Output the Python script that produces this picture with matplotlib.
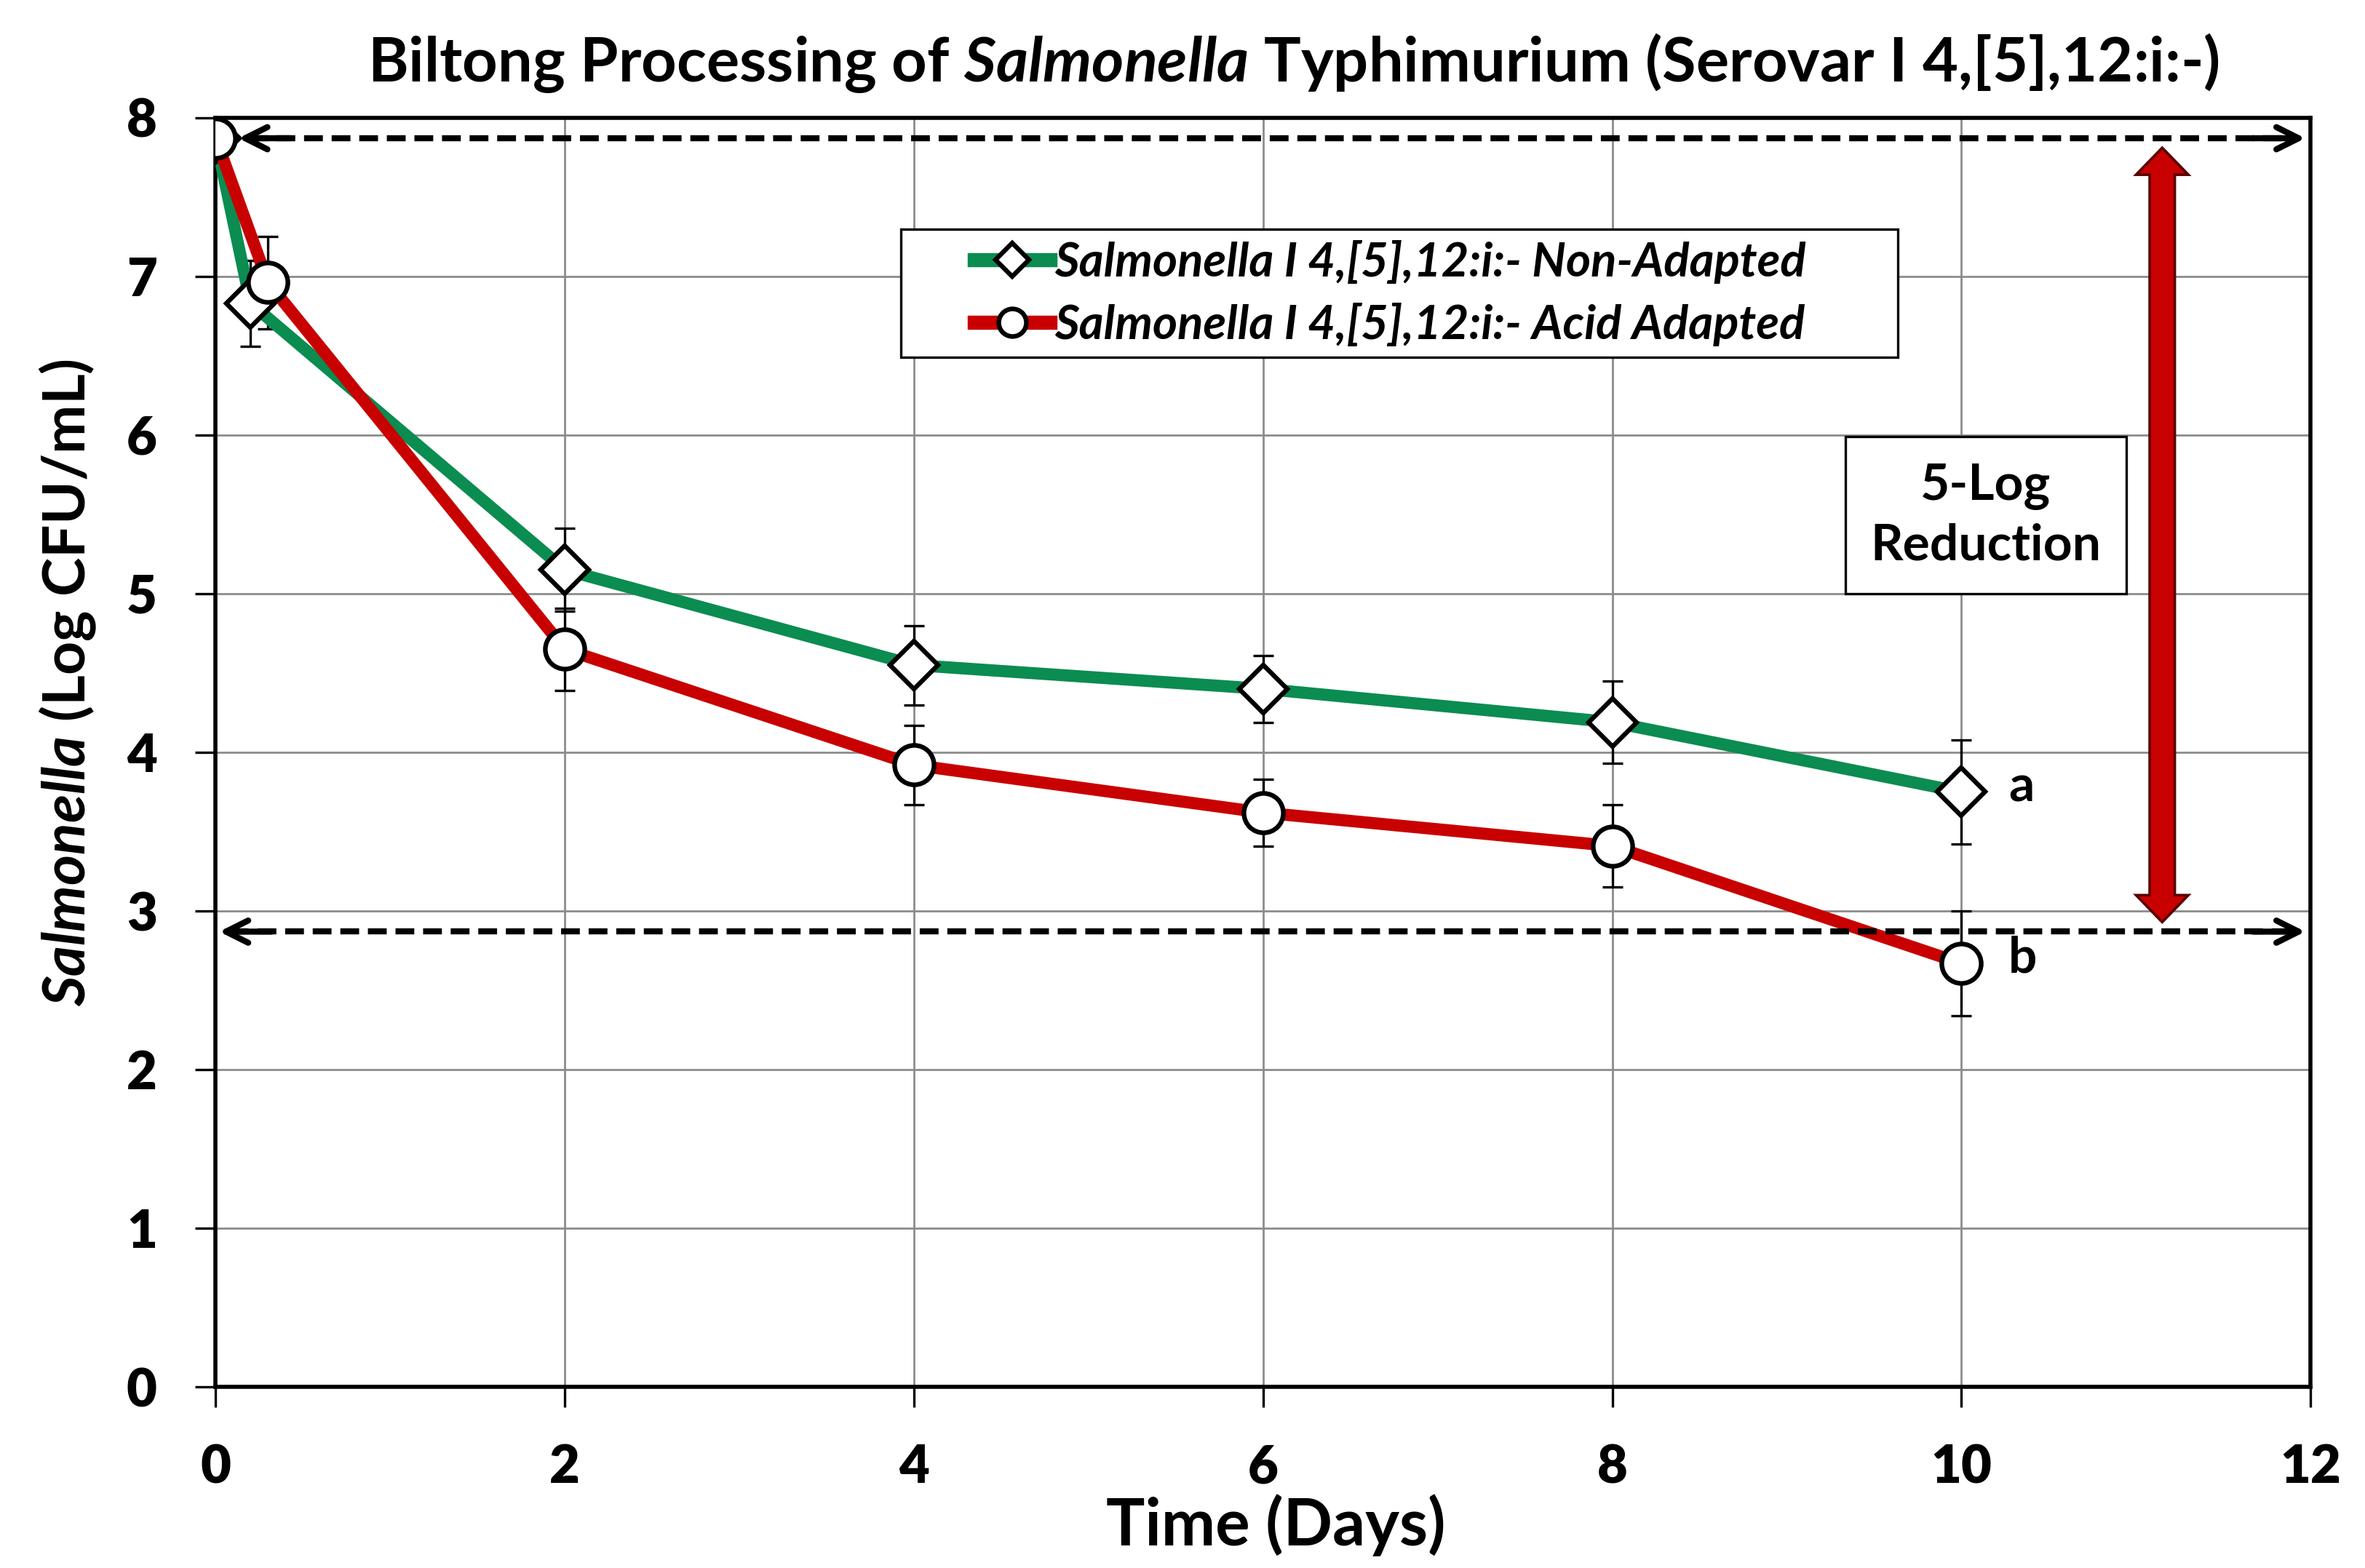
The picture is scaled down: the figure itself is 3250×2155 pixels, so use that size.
import numpy as np
import matplotlib
matplotlib.use("Agg")
import matplotlib.pyplot as plt
from matplotlib.patches import Rectangle, Polygon

plt.rcParams['font.family'] = ['Lato', 'DejaVu Sans']
plt.rcParams['font.weight'] = 'bold'
plt.rcParams['mathtext.fontset'] = 'custom'
plt.rcParams['mathtext.it'] = 'Lato:italic:bold'
plt.rcParams['mathtext.rm'] = 'Lato:bold'
plt.rcParams['mathtext.bf'] = 'Lato:bold'

# data
days_non = [0, 0.2, 2, 4, 6, 8, 10]
log_non = [7.87, 6.83, 5.15, 4.55, 4.40, 4.19, 3.75]
err_non = [0.0, 0.27, 0.26, 0.25, 0.21, 0.26, 0.33]

days_acid = [0, 0.3, 2, 4, 6, 8, 10]
log_acid = [7.87, 6.96, 4.65, 3.92, 3.62, 3.41, 2.67]
err_acid = [0.0, 0.29, 0.26, 0.25, 0.21, 0.26, 0.33]

label_non = "Salmonella I 4,[5],12:i:- Non-Adapted"
label_acid = "Salmonella I 4,[5],12:i:- Acid Adapted"
start_log = 7.87
target_log = 2.87
green = '#0b8c50'
red = '#c80000'

fig = plt.figure(figsize=(16.25, 10.775), dpi=200)
ax = fig.add_axes([0.0912, 0.1154, 0.8858, 0.8096])

ax.grid(True, color='#8c8c8c', lw=1.0, zorder=0)
ax.set_xlim(0, 12)
ax.set_ylim(0, 8)
ax.set_xticks(range(0, 13, 2))
ax.set_yticks(range(0, 9))
ax.tick_params(labelsize=26, length=10, width=1.2, direction='out')
ax.tick_params(axis='x', pad=18)
ax.tick_params(axis='y', pad=19)
for lab in ax.get_xticklabels() + ax.get_yticklabels():
    lab.set_fontweight('heavy')
for s in ax.spines.values():
    s.set_linewidth(2.0)

ax.errorbar(days_non, log_non, yerr=err_non, fmt='none', ecolor='black',
            elinewidth=1.2, capsize=5, capthick=1.2, zorder=3)
ax.errorbar(days_acid, log_acid, yerr=err_acid, fmt='none', ecolor='black',
            elinewidth=1.2, capsize=5, capthick=1.2, zorder=3)
ax.plot(days_non, log_non, color=green, lw=6, marker='D', ms=17,
        mfc='white', mec='black', mew=2.3, label=label_non, zorder=4)
ax.plot(days_acid, log_acid, color=red, lw=6, marker='o', ms=19.5,
        mfc='white', mec='black', mew=2.3, label=label_acid, zorder=5)

# dashed reference lines with open arrow heads
for yv, x0 in [(start_log, 0.13), (target_log, 0.02)]:
    ax.plot([x0 + 0.06, 11.9], [yv, yv], color='black', lw=3,
            ls=(0, (3.1, 1.45)), zorder=6)
    ax.annotate('', xy=(x0, yv), xytext=(x0 + 0.3, yv),
                arrowprops=dict(arrowstyle='->,head_length=1.1,head_width=0.55',
                                color='black', lw=3, shrinkA=0, shrinkB=0), zorder=6)
    ax.annotate('', xy=(11.97, yv), xytext=(11.67, yv),
                arrowprops=dict(arrowstyle='->,head_length=1.1,head_width=0.55',
                                color='black', lw=3, shrinkA=0, shrinkB=0), zorder=6)

# red 5-log double arrow
arr_x, arr_top, arr_bot = 11.15, 7.81, 2.93
shaft_hw, head_hw, head_len = 0.072, 0.15, 0.17
arrow_pts = [
    (arr_x, arr_top),
    (arr_x + head_hw, arr_top - head_len), (arr_x + shaft_hw, arr_top - head_len),
    (arr_x + shaft_hw, arr_bot + head_len), (arr_x + head_hw, arr_bot + head_len),
    (arr_x, arr_bot),
    (arr_x - head_hw, arr_bot + head_len), (arr_x - shaft_hw, arr_bot + head_len),
    (arr_x - shaft_hw, arr_top - head_len), (arr_x - head_hw, arr_top - head_len),
]
ax.add_patch(Polygon(arrow_pts, closed=True, fc=red, ec='#5a0000', lw=1.3,
                     joinstyle='miter', zorder=6))

ax.text(10.14, 5.49, "5-Log\nReduction", ha='center', va='center',
        fontsize=25, fontweight='bold', linespacing=1.35,
        bbox=dict(boxstyle='square,pad=0.5', fc='white', ec='black', lw=1.2),
        zorder=7)

ax.text(10.27, 3.78, "a", fontsize=25, fontweight='bold', va='center', zorder=7)
ax.text(10.27, 2.7, "b", fontsize=25, fontweight='bold', va='center', zorder=7)

# legend: frame drawn separately (wide side padding as in the original)
ax.add_patch(Rectangle((0.327, 0.811), 0.476, 0.101, transform=ax.transAxes,
                       fc='white', ec='black', lw=1.2, zorder=8))
leg = ax.legend(loc='center left', bbox_to_anchor=(0.362, 0.8617),
                prop=dict(size=23.5, weight='bold', style='italic'),
                frameon=False, handlelength=1.6, handletextpad=0.1,
                borderpad=0, borderaxespad=0, labelspacing=0.4,
                markerscale=0.7)
leg.set_zorder(9)
for h in leg.get_lines():
    h.set_linewidth(7)

fig.text(0.547, 0.96, r"Biltong Processing of $\it{Salmonella}$ Typhimurium (Serovar I 4,[5],12:i:-)",
         ha='center', va='center', fontsize=30.5, fontweight='bold')
ax.set_xlabel("Time (Days)", fontsize=32, fontweight='bold', va='center')
ax.xaxis.set_label_coords(0.506, -0.109)
ax.set_ylabel(r"$\it{Salmonella}$ (Log CFU/mL)", fontsize=29, fontweight='bold', va='center')
ax.yaxis.set_label_coords(-0.0706, 0.555)

fig.savefig("out.png", dpi=200, facecolor='white')
